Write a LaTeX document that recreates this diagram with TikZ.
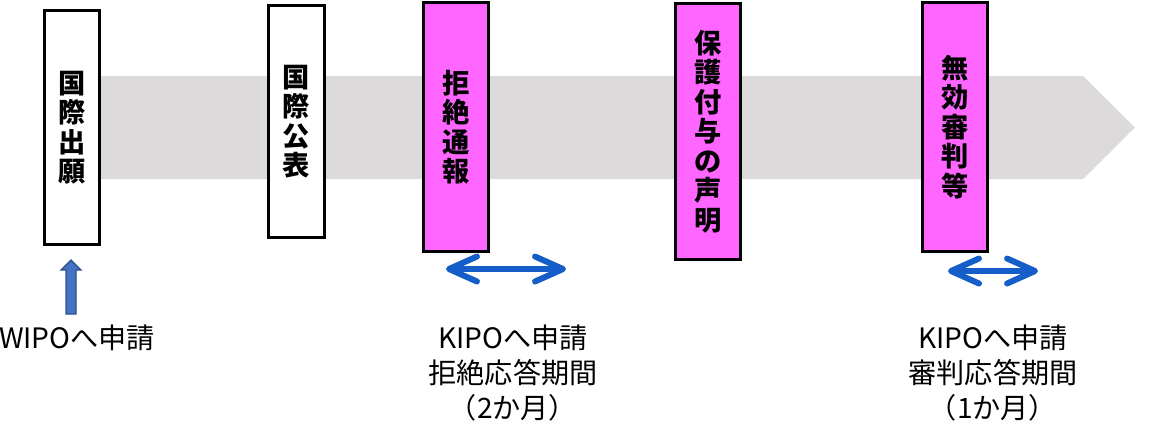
\documentclass[tikz,border=0pt]{standalone}
\usepackage{fontspec}
\setmainfont{Noto Sans CJK JP}
\usetikzlibrary{arrows.meta,positioning}
\definecolor{bandgray}{HTML}{DCDADB}
\definecolor{notepink}{HTML}{FF66FF}
\definecolor{periodblue}{HTML}{155DC8}
\definecolor{wipofill}{HTML}{4472C4}
\definecolor{wipodraw}{HTML}{2F528F}
\tikzset{
  event/.style={
    draw=black,
    line width=1.8pt,
    fill=white,
    align=center,
    inner sep=0pt,
    font=\fontsize{15.5pt}{16.8pt}\selectfont\bfseries
  },
  kipoevent/.style={
    event,
    fill=notepink,
    minimum width=1.3cm
  },
  period/.style={
    {Straight Barb[length=5.6mm,width=5mm,round]}-{Straight Barb[length=5.6mm,width=5mm,round]},
    line width=3.4pt,
    draw=periodblue
  },
  note/.style={
    align=center,
    font=\fontsize{16pt}{20pt}\selectfont
  },
  submitarrow/.style={
    draw=wipodraw,
    fill=wipofill,
    line width=0.8pt
  }
}

\begin{document}
\begin{tikzpicture}[x=0.02cm,y=-0.02cm]
  \useasboundingbox (0,0) rectangle (1162,441);

  % timeline band
  \fill[bandgray] (60,76) -- (1083,76) -- (1135,127.5) -- (1083,179) -- (60,179) -- cycle;

  \node[event, minimum width=1.1cm, minimum height=4.68cm] (filing) at (72,127.5)
    {国\\際\\出\\願};
  \node[event, minimum width=1.12cm, minimum height=4.64cm] (publication) at (296.5,121.5)
    {国\\際\\公\\表};
  \node[kipoevent, minimum height=4.98cm] (refusal) at (456,127)
    {拒\\絶\\通\\報};
  \node[kipoevent, minimum height=5.12cm] (grant) at (708,131.5)
    {保\\護\\付\\与\\の\\声\\明};
  \node[kipoevent, minimum height=4.98cm] (trial) at (955,127)
    {無\\効\\審\\判\\等};

  % WIPO filing
  \draw[submitarrow] (66,314) -- (66,270) -- (61,270) -- (71,260) -- (81,270)
    -- (76,270) -- (76,314) -- cycle;
  \node[note] (wipo) at (77,338) {WIPOへ申請};

  % response periods
  \coordinate (refusalstart) at (446,269);
  \coordinate (refusalend) at (566,269);
  \draw[period] (refusalstart) -- (refusalend);
  \node[note] (refusalnote) at (513,373)
    {KIPOへ申請\\拒絶応答期間\\（2か月）};

  \coordinate (trialstart) at (948,271);
  \coordinate (trialend) at (1038,271);
  \draw[period] (trialstart) -- (trialend);
  \node[note] (trialnote) at (993,373)
    {KIPOへ申請\\審判応答期間\\（1か月）};
\end{tikzpicture}
\end{document}
